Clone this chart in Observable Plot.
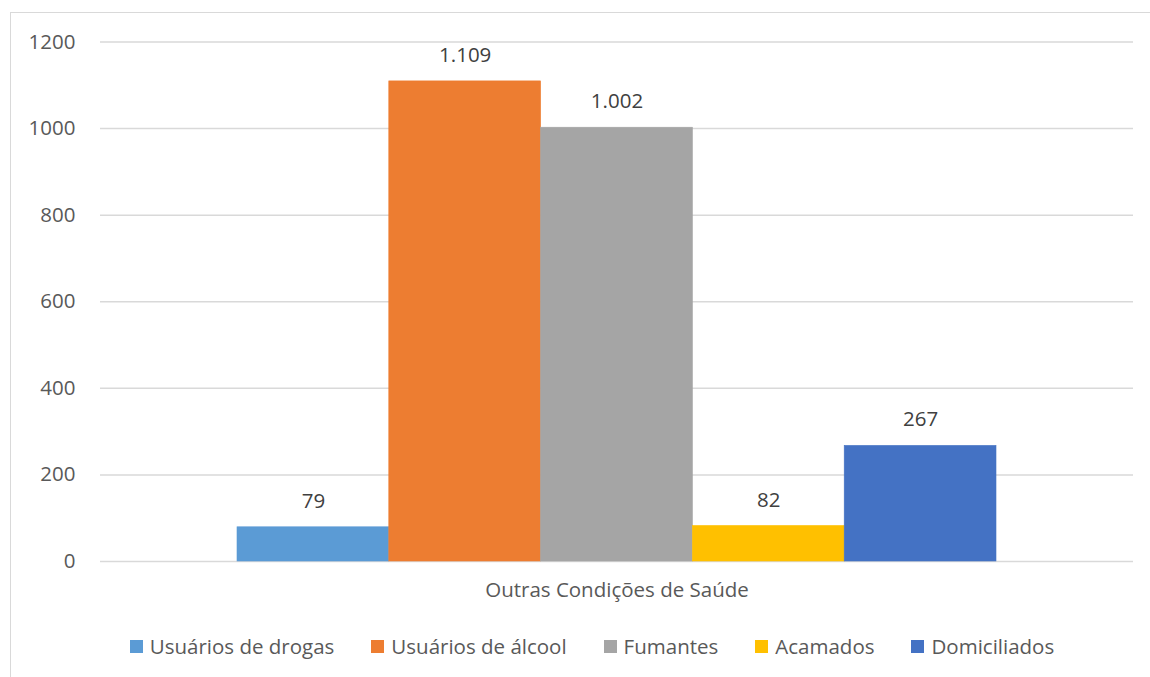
<!DOCTYPE html>
<html lang="pt">
<head>
<meta charset="utf-8">
<script src="https://cdn.jsdelivr.net/npm/d3@7"></script>
<script src="https://cdn.jsdelivr.net/npm/@observablehq/plot@0.6"></script>
<style>
  body { margin: 0; background: #fff; font-family: "Open Sans", sans-serif; }
  #frame { position: absolute; left: 10px; top: 12px; width: 1200px; height: 700px;
           border: 1.5px solid #d9d9d9; box-sizing: border-box; }
  #chart { position: absolute; left: 0; top: 0; }
  #legend { position: absolute; left: 0; top: 632px; width: 1184px; }
  #legend .lg-swatches { justify-content: center; width: 1184px; min-height: 26px; margin: 0; }
  #legend .lg-swatch { margin-right: 37px; }
  #legend .lg-swatch:last-child { margin-right: 0; }
  #legend .lg-swatch > svg { margin-right: 7px; }
</style>
</head>
<body>
<div id="frame"></div>
<div id="chart"></div>
<div id="legend"></div>
<script>
// Categoria única do eixo X
const group = "Outras Condições de Saúde";
// Séries (uma barra por série)
const series = ["Usuários de drogas", "Usuários de álcool", "Fumantes", "Acamados", "Domiciliados"];
const values = [79, 1109, 1002, 82, 267];
const colors = ["#5B9BD5", "#ED7D31", "#A5A5A5", "#FFC000", "#4472C4"];
// Marcas do eixo Y
const yTicks = [0, 200, 400, 600, 800, 1000, 1200];

const rows = series.map((s, i) => ({group, serie: s, value: values[i]}));

// Números no formato brasileiro (1.109)
const fmt = d3.formatLocale({decimal: ",", thousands: ".", grouping: [3], currency: ["R$", ""]}).format(",d");

const font = "'Open Sans', sans-serif";
const fs = 20.5;

const chart = Plot.plot({
  width: 1150,
  height: 610,
  marginLeft: 100,
  marginRight: 17,
  marginTop: 41.5,
  marginBottom: 49,
  style: {fontFamily: font, fontSize: fs + "px", color: "#595959", background: "transparent", overflow: "visible"},
  fx: {domain: [group], padding: 0, round: false, label: null, axis: null},
  x: {domain: series, paddingInner: 0, paddingOuter: 0.9025, round: false, axis: null},
  y: {domain: [0, 1200], axis: null},
  color: {domain: series, range: colors},
  marks: [
    Plot.gridY(yTicks, {stroke: "#d9d9d9", strokeOpacity: 1, strokeWidth: 1.5}),
    Plot.axisY(yTicks, {tickSize: 0, tickPadding: 25, tickFormat: "d", label: null, fill: "#595959", fontSize: fs}),
    // contorno fino da mesma cor para as barras encostarem sem frestas
    Plot.barY(rows, {fx: "group", x: "serie", y: "value", fill: "serie", stroke: "serie", strokeWidth: 0.6}),
    Plot.text(rows, {fx: "group", x: "serie", y: "value", text: d => fmt(d.value),
                     dy: -26, fill: "#404040", fontSize: fs}),
    Plot.axisFx({anchor: "bottom", tickSize: 0, tickPadding: 21, label: null, fill: "#595959", fontSize: fs})
  ]
});
document.getElementById("chart").append(chart);

const legend = Plot.legend({
  color: {domain: series, range: colors},
  swatchSize: 13,
  className: "lg",
  style: {fontFamily: font, fontSize: fs + "px", color: "#595959"}
});
document.getElementById("legend").append(legend);
</script>
</body>
</html>
